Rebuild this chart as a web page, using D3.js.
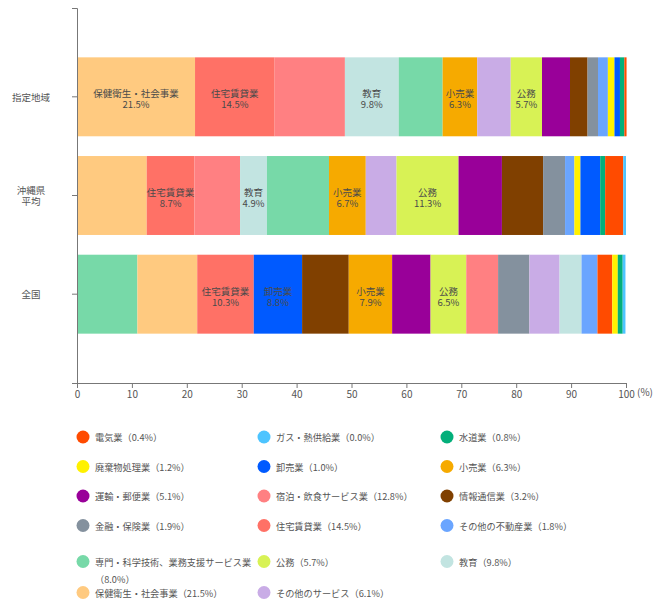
<!DOCTYPE html>
<html>
<head>
<meta charset="utf-8">
<script src="https://cdn.jsdelivr.net/npm/d3@7"></script>
<style>
  body { margin: 0; background: #fff; }
  svg text { font-family: "Noto Sans CJK JP", "Noto Sans", sans-serif; }
</style>
</head>
<body>
<div id="chart"></div>
<script>
// Categories
const regions = ["指定地域", "沖縄県平均", "全国"];

const industries = ["電気業", "ガス・熱供給業", "水道業", "廃棄物処理業", "卸売業", "小売業",
  "運輸・郵便業", "宿泊・飲食サービス業", "情報通信業", "金融・保険業", "住宅賃貸業",
  "その他の不動産業", "専門・科学技術、業務支援サービス業", "公務", "教育",
  "保健衛生・社会事業", "その他のサービス"];

// Shares (%) per region, same order as industries
const shiteiChiiki = [0.4, 0.0, 0.8, 1.2, 1.0, 6.3, 5.1, 12.8, 3.2, 1.9, 14.5, 1.8, 8.0, 5.7, 9.8, 21.5, 6.1];
const okinawaAvg = [3.3, 0.5, 0.9, 1.1, 3.6, 6.7, 7.9, 8.3, 7.5, 4.0, 8.7, 1.7, 11.3, 11.3, 4.9, 12.7, 5.6];
const zenkoku = [2.7, 0.5, 0.9, 1.0, 8.8, 7.9, 7.0, 5.8, 8.5, 5.7, 10.3, 2.9, 11.0, 6.5, 4.0, 10.9, 5.5];
const regionValues = [shiteiChiiki, okinawaAvg, zenkoku];

// which region's values decide the order of segments in each bar
const sortBy = ["指定地域", "指定地域", "全国"];

// segments that carry a label inside the bar
const labeledShitei = ["保健衛生・社会事業", "住宅賃貸業", "教育", "小売業", "公務"];
const labeledOkinawa = ["住宅賃貸業", "教育", "小売業", "公務"];
const labeledZenkoku = ["住宅賃貸業", "卸売業", "小売業", "公務"];
const labeled = [labeledShitei, labeledOkinawa, labeledZenkoku];

const colors = ["#ff4b00", "#4dc4ff", "#03af7a", "#fff100", "#005aff", "#f6aa00",
  "#990099", "#ff8082", "#804000", "#84919e", "#ff7166",
  "#6aa5ff", "#77d9a8", "#d8f255", "#c2e4e1",
  "#ffca80", "#c9ace6"];

const xTicks = d3.range(0, 101, 10);

// Setting dimensions
const width = 653,
  height = 603;

const svg = d3.select("#chart")
  .append("svg")
  .attr("width", width)
  .attr("height", height);

const x = d3.scaleLinear().domain([0, 100]).range([77, 626]);

const y = d3.scaleBand()
  .domain(regions)
  .range([8, 383])
  .paddingInner(0.2)
  .paddingOuter(0.5);

const color = d3.scaleOrdinal().domain(industries).range(colors);

// Build the stacked segments row by row
const segments = [];
regions.forEach(function (region, r) {
  const ref = regionValues[regions.indexOf(sortBy[r])];
  const order = d3.range(industries.length).sort(function (a, b) {
    return ref[b] - ref[a];
  });
  let x0 = 0;
  order.forEach(function (i) {
    const v = regionValues[r][i];
    segments.push({
      region: region,
      name: industries[i],
      value: v,
      x0: x0,
      x1: x0 + v,
      label: labeled[r].indexOf(industries[i]) >= 0
    });
    x0 += v;
  });
});

svg.append("g")
  .selectAll("rect")
  .data(segments)
  .enter()
  .append("rect")
  .attr("x", d => x(d.x0))
  .attr("y", d => y(d.region))
  .attr("width", d => Math.max(0, x(d.x1) - x(d.x0)))
  .attr("height", y.bandwidth())
  .attr("fill", d => color(d.name));

// Labels inside the bars
const lab = svg.append("g")
  .selectAll("text")
  .data(segments.filter(d => d.label))
  .enter()
  .append("text")
  .attr("text-anchor", "middle")
  .style("font-size", "9.5px")
  .style("fill", "#4a4a4a");

lab.append("tspan")
  .attr("x", d => x((d.x0 + d.x1) / 2))
  .attr("y", d => y(d.region) + y.bandwidth() / 2 - 3.5)
  .attr("dominant-baseline", "central")
  .text(d => d.name);

lab.append("tspan")
  .attr("x", d => x((d.x0 + d.x1) / 2))
  .attr("y", d => y(d.region) + y.bandwidth() / 2 + 7.5)
  .attr("dominant-baseline", "central")
  .text(d => d.value.toFixed(1) + "%");

// Axes
const xAxis = svg.append("g")
  .attr("transform", "translate(0," + 383 + ")")
  .call(d3.axisBottom(x).tickValues(xTicks).tickSize(5));

const yAxis = svg.append("g")
  .attr("transform", "translate(" + 77 + ",0)")
  .call(d3.axisLeft(y).tickSize(5));

[xAxis, yAxis].forEach(function (g) {
  g.selectAll("path, line").attr("stroke", "#777");
  g.selectAll("text")
    .style("font-size", "10px")
    .style("fill", "#555")
    .style("font-family", "\"Noto Sans CJK JP\", sans-serif");
});

// Category labels: centered, long names wrapped
yAxis.selectAll(".tick text").remove();
yAxis.selectAll(".tick").each(function (d) {
  const lines = d.length > 4 ? [d.slice(0, 3), d.slice(3)] : [d];
  const t = d3.select(this).append("text")
    .attr("text-anchor", "middle")
    .attr("x", 31 - 77)
    .style("font-size", "9.5px")
    .style("fill", "#555");
  lines.forEach(function (s, k) {
    t.append("tspan")
      .attr("x", 31 - 77)
      .attr("y", (k - (lines.length - 1) / 2) * 11)
      .attr("dominant-baseline", "central")
      .text(s);
  });
});

svg.append("text")
  .attr("x", 637)
  .attr("y", 396)
  .style("font-size", "10px")
  .style("fill", "#555")
  .text("(%)");

// Legend
const legendCols = [83, 264, 447];
const rowGap = 29.5;
const maxTextW = 158;
let ly = 437;
const legend = svg.append("g");
for (let row = 0; row * 3 < industries.length; row++) {
  const items = industries.slice(row * 3, row * 3 + 3);
  let rowWraps = false;
  const groups = items.map(function (name, c) {
    const i = row * 3 + c;
    const g = legend.append("g");
    g.append("circle")
      .attr("cx", legendCols[c])
      .attr("r", 6.5)
      .attr("fill", color(name));
    const t = g.append("text")
      .attr("x", legendCols[c] + 12)
      .attr("dominant-baseline", "central")
      .style("font-size", "9.2px")
      .style("fill", "#555");
    t.append("tspan").text(name);
    const pct = "（" + shiteiChiiki[i].toFixed(1) + "%）";
    const tail = t.append("tspan").text(pct);
    if (t.node().getComputedTextLength() > maxTextW) {
      tail.attr("x", legendCols[c] + 12).attr("dy", 17);
      rowWraps = true;
    }
    return g;
  });
  if (rowWraps) ly += 6.5;
  groups.forEach(function (g) {
    g.attr("transform", "translate(0," + ly + ")");
  });
  ly += rowGap + (rowWraps ? 1.5 : 0);
}
</script>
</body>
</html>
